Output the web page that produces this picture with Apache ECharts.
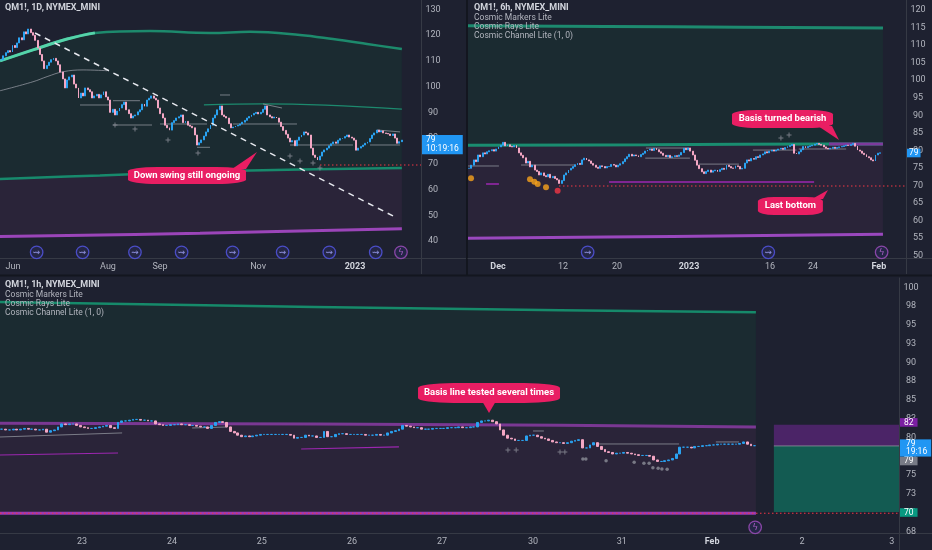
<!DOCTYPE html>
<html>
<head>
<meta charset="UTF-8">
<title>QM1! - Cosmic Channel Lite</title>
<script src="https://cdn.jsdelivr.net/npm/echarts@6/dist/echarts.min.js"></script>
<style>
    html, body { margin: 0; padding: 0; background: #1e2130; }
    #chart { width: 932px; height: 550px; }
</style>
</head>
<body>
<div id="chart"></div>
<script type="text/javascript">
    // ---- closes (open = previous close) ----
    var dailyClose = [
        110.4,112.0,113.2,114.0,113.5,116.0,115.2,117.0,119.0,118.2,
        121.3,120.5,122.4,121.0,120.0,118.0,115.0,112.5,110.0,107.0,
        108.2,109.5,110.5,111.0,110.0,108.5,105.7,103.0,99.5,102.6,
        103.8,104.5,101.0,99.5,95.6,97.5,96.4,99.5,98.8,98.0,
        95.6,96.4,97.0,95.6,96.8,98.0,96.0,94.8,90.0,91.2,
        89.0,90.5,91.7,93.0,94.0,91.0,89.5,87.8,88.6,89.0,
        90.2,91.0,93.2,92.4,94.8,95.5,96.4,95.5,94.8,91.7,
        89.5,87.8,85.0,84.0,83.1,86.0,86.8,87.8,88.3,89.0,
        86.0,86.5,85.0,84.6,84.0,81.2,77.3,78.2,79.3,80.8,
        82.4,83.6,85.0,87.8,89.0,91.0,92.5,89.0,88.4,87.8,
        85.6,84.0,84.3,84.7,85.0,85.5,86.2,86.9,87.8,88.4,
        89.0,89.6,90.0,89.4,90.0,91.2,92.5,89.0,88.3,87.8,
        88.2,87.8,86.2,84.5,83.0,81.5,80.0,78.5,79.0,77.0,
        79.2,80.4,81.2,82.4,82.0,81.2,76.1,73.4,72.5,71.5,
        73.0,74.6,75.4,76.1,77.0,77.8,78.5,78.0,79.2,79.8,
        80.0,80.6,81.2,80.4,80.0,79.2,75.3,76.1,76.7,77.3,
        78.0,78.5,79.8,81.2,82.0,83.1,82.4,82.8,82.0,81.8,
        81.6,81.0,81.6,80.0,78.0,78.6,79.2
    ];
    var sixHourClose = [
        74.9,75.8,77.3,76.8,78.7,78.2,79.3,79.0,79.6,79.9,
        80.2,79.8,80.4,81.0,81.5,82.3,81.3,81.6,81.1,81.0,
        81.4,80.7,79.3,78.6,77.9,76.4,76.9,75.3,75.8,74.4,
        74.0,73.0,73.6,72.8,72.5,73.2,72.2,72.6,72.0,71.6,
        70.6,71.4,73.0,73.6,74.4,74.9,75.4,75.9,76.3,76.0,
        77.3,77.8,77.3,77.0,76.3,75.8,75.2,74.9,75.6,75.4,
        75.0,75.4,75.4,76.0,75.8,75.3,75.8,76.2,76.8,77.6,
        78.2,78.9,78.4,78.7,78.5,78.2,78.8,79.2,79.8,80.1,
        80.4,80.0,80.6,80.2,79.6,79.2,78.6,78.2,78.6,78.0,
        78.2,78.5,78.3,78.7,79.4,80.6,80.2,80.7,79.8,78.7,
        77.2,75.8,74.8,73.9,73.4,74.0,74.4,73.8,74.2,74.4,
        74.0,74.5,74.9,74.6,75.8,75.4,75.0,74.9,75.6,75.4,
        74.7,74.9,76.4,77.3,77.0,77.7,77.5,78.2,78.0,78.7,
        79.0,79.6,79.3,79.8,80.1,79.8,80.1,80.4,80.6,80.3,
        80.8,81.1,81.4,81.7,79.2,79.0,79.6,80.2,81.1,80.8,
        81.1,81.3,81.5,81.8,82.0,81.7,81.5,81.0,80.6,80.4,
        80.6,80.9,80.6,80.8,81.0,81.1,81.3,81.5,81.4,81.7,
        82.0,81.2,80.1,79.8,79.2,78.8,78.2,77.9,77.3,77.0,
        78.7,79.2,79.3
    ];
    var hourClose = [
        81.1,81.0,81.0,81.1,81.0,81.1,81.2,81.1,81.1,81.0,
        81.0,81.1,80.7,80.9,81.0,81.4,81.8,81.7,81.8,81.8,
        81.6,81.4,81.3,81.2,81.2,81.3,81.4,81.5,81.6,81.3,
        81.2,82.0,82.2,82.2,82.3,82.4,82.4,82.3,82.3,82.2,
        82.2,81.8,81.7,81.6,81.6,81.7,81.7,81.8,81.7,81.7,
        81.6,81.6,81.5,81.4,81.4,81.2,81.6,82.0,82.1,82.0,
        81.4,80.8,80.6,80.3,80.1,80.2,80.1,80.2,80.3,80.4,
        80.4,80.4,80.4,80.4,80.4,80.4,80.4,80.3,79.9,80.0,
        80.0,80.3,80.2,80.2,80.0,80.0,80.8,80.1,80.1,80.4,
        80.5,80.5,80.4,80.4,80.4,80.4,80.4,80.3,80.3,80.3,
        80.4,80.3,80.3,80.6,80.8,80.9,81.1,81.6,81.5,81.4,
        81.3,81.3,81.1,81.1,81.1,81.2,81.2,81.2,81.2,81.3,
        81.3,81.3,81.4,81.3,81.3,81.4,81.4,82.0,82.2,82.2,
        82.3,82.1,81.8,81.0,80.3,79.9,79.8,79.6,79.6,79.6,
        80.2,80.3,80.3,80.1,79.9,79.8,79.6,79.4,79.3,79.3,
        79.2,79.3,79.5,79.6,79.7,78.6,78.6,79.0,79.3,78.8,
        78.4,78.1,78.0,77.8,77.9,77.9,78.0,77.9,77.8,77.7,
        77.6,77.6,77.6,77.5,77.0,76.8,76.8,76.9,77.0,77.2,
        77.8,78.7,78.7,78.7,78.6,78.8,78.8,78.9,78.9,79.0,
        79.0,79.1,79.1,79.1,79.1,79.1,79.1,79.2,79.4,79.1,
        78.9,78.9
    ];

    // bar slots on each time scale (data + empty space to the right)
    var dailySlots = 185, sixHourSlots = 194, hourSlots = 240;

    // time labels: [slot, text, bold]
    var dailyTicks = [[5.2,'Jun'],[46.96,'Aug'],[69.8,'Sep'],[112.9,'Nov'],[155.5,'2023',1]];
    var sixHourTicks = [[12.8,'Dec',1],[41.6,'12'],[65.5,'20'],[97.4,'2023',1],[133.3,'16'],[152.3,'24'],[181.5,'Feb',1]];
    var hourTicks = [[21.4,'23'],[45.4,'24'],[69.4,'25'],[93.5,'26'],[117.5,'27'],[141.8,'30'],[165.5,'31'],[189.6,'Feb',1],[213.6,'2'],[237.6,'3']];

    // price labels
    var dailyPriceTicks = [40,50,60,70,80,90,100,110,120,130];
    var sixHourPriceTicks = [50,55,60,65,70,75,80,85,90,95,100,105,110,115,120];
    var hourPriceTicks = [67.5,70,72.5,75,77.5,80,82.5,85,87.5,90,92.5,95,97.5,100];

    // last price / level tags on the price scales
    var dailyLast = 79, sixHourLast = 79.26;
    var hourLevels = {upper: 82, last: 79.13, close: 76.86, bottom: 70};

    // ---- Cosmic Channel bands [slot, price] ----
    var dUpper = [[-0.5,110.0],[14,114.3],[29,118.5],[41.2,120.9],[65.4,121.6],[91.8,120.9],[109.4,121.3],[131.3,120.1],[145.8,118.5],[160.8,116.6],[176.1,114.6]];
    var dUpperLit = [[-0.5,110.0],[14,114.3],[29,118.5],[41.2,120.9]];
    var dBasis = [[-0.5,64.1],[43.4,65.5],[87.4,66.9],[131.3,67.8],[176.1,68.4]];
    var dLower = [[-0.5,41.7],[87.4,43.0],[176.1,44.8]];
    var dInner = [[89.1,92.9],[115,93.3],[176.1,91.3]];
    var dRay = [[-0.5,98.4],[14,101.9],[20.2,103.9],[27.2,105.8],[36,106.5],[46.5,106.2]];
    var dTrend = [[14.9,120.86],[173.1,49.32]];
    var dLastBottom = [[140.1,69.54],[184.5,69.54]];

    var sUpper = [[-0.5,115.5],[90,115.2],[183.3,114.9]];
    var sBasis = [[-0.5,81.5],[80,81.6],[159.4,81.8],[183.3,81.8]];
    var sBasisBear = [[159.4,81.8],[183.3,81.8]];
    var sLower = [[-0.5,55.0],[90,55.5],[183.3,56.1]];
    var sLastBottom = [[39.8,69.86],[193.5,69.86]];

    var hUpper = [[-0.5,98.04],[124,97.1],[201.3,96.67]];
    var hBasis = [[-0.5,81.9],[124,81.7],[201.3,81.4]];
    var hLower = [[-0.5,69.9],[201.3,69.9]];
    var hLastBottom = [[-0.5,69.9],[239.5,69.9]];

    // ---- Cosmic Rays levels ----
    var dGreyLevels = [
        [[34.65,92.87],[47.84,92.87]], [[49.15,85.09],[66.29,85.09]], [[49.15,94.54],[61.0,94.54]],
        [[69.81,85.48],[90.46,85.48]], [[86.07,76.42],[91.78,76.42]], [[101.9,85.48],[130,85.48]],
        [[96.17,96.76],[100.57,96.76]], [[115.07,93.27],[123.4,91.7]], [[126.93,77.32],[154.6,77.32]],
        [[162.1,77.32],[175.3,77.32]], [[165.2,83.15],[175.3,82.4]]
    ];
    var sGreyLevels = [
        [[-0.5,75.56],[13.2,75.56]], [[23,75.84],[47.3,75.84]], [[78.3,80.68],[97.4,80.68]],
        [[78,77.8],[97.8,77.8]], [[101.8,76.1],[119.5,76.1]], [[125.7,80.1],[145,80.1]], [[146,80.4],[167,80.4]]
    ];
    var sMagentaLevels = [[[62,71.0],[152.8,71.0]], [[7.5,70.4],[13.2,70.4]]];
    var hGreyLevels = [
        [[-0.5,80.06],[32.1,80.6]], [[50.8,81.26],[60.1,81.39]], [[141.8,80.86],[144.7,80.86]],
        [[159.1,79.13],[180.8,79.13]], [[190.6,79.4],[196.8,79.4]], [[206.1,78.87],[239.5,78.87]]
    ];
    var hMagentaLevels = [[[-0.5,77.66],[31,77.93]], [[79.9,78.46],[106,78.73]]];

    // ---- Cosmic Markers ----
    var dPlus = [[50.03,85.09],[58.82,83.53],[73.32,79.25],[86.5,74.2],[126.93,73.0],[131.33,71.1],[137.04,70.3],[140.1,68.4]];
    var sPlus = [[138.1,83.53],[141.7,84.4]];
    var sOrange = [[0.83,72.05],[26.96,71.8],[28.87,71.1],[30.37,70.4],[34.05,69.5]];
    var sRed = [[39.2,68.5]];
    var hPlus = [[135.1,78.33],[137.3,78.33],[149.0,78.06],[150.3,78.06]];
    var hDots = [[155.1,77.13],[155.9,77.13],[161.3,76.9],[168.8,76.69],[171.4,76.56],[172.8,76.56],[173.8,75.97],[175.2,75.9],[176.2,75.8],[177.6,75.76]];

    // event icons
    var dEvents = [[15.6,35.6],[35.8,35.6],[58.8,35.6],[79.3,35.6],[101.7,35.6],[123.7,35.6],[144.2,35.6],[164.6,35.6]];
    var dFlash = [[175.7,35.6]];
    var sEvents = [[52.5,50.97],[132.5,50.97]];
    var sFlash = [[182.7,50.97]];
    var hFlash = [[201.1,68.03]];

    // ---- styles ----
    var BG = '#1e2130', TEAL_FILL = '#1b2b31', PURPLE_FILL = '#2a2439';
    var AXIS_LINE = '#363a45', LABEL = '#b2b5be', PINK = '#e91e63';
    var UP = '#2aa3f2', DOWN = '#f4a7c4';
    var FONT = 'Roboto, "Noto Sans", sans-serif';

    function toOhlc(closes) {
        return closes.map(function (c, i) {
            var o = i ? closes[i - 1] : c;
            return [o, c, Math.min(o, c), Math.max(o, c)];
        });
    }
    function slotNames(n) {
        var a = [];
        for (var i = 0; i < n; i++) a.push(String(i));
        return a;
    }
    function timeAxis(grid, slots, ticks) {
        return {
            type: 'value', gridIndex: grid, position: 'bottom', min: -0.5, max: slots - 0.5,
            splitLine: {show: false}, axisTick: {show: false},
            axisLine: {show: true, onZero: false, lineStyle: {color: AXIS_LINE}},
            axisLabel: {
                customValues: ticks.map(function (t) { return t[0]; }),
                color: LABEL, fontSize: 9, margin: 4, fontFamily: FONT,
                formatter: function (v) {
                    for (var i = 0; i < ticks.length; i++) {
                        if (Math.abs(ticks[i][0] - v) < 1e-6) {
                            return ticks[i][2] ? '{b|' + ticks[i][1] + '}' : ticks[i][1];
                        }
                    }
                    return '';
                },
                rich: {b: {fontWeight: 'bold', color: '#d1d4dc', fontSize: 9, fontFamily: FONT}}
            }
        };
    }
    function slotAxis(grid, slots) {
        return {type: 'category', gridIndex: grid, position: 'top', show: false, boundaryGap: true, data: slotNames(slots)};
    }
    function priceAxis(grid, min, max, ticks) {
        return {
            type: 'value', gridIndex: grid, position: 'right', min: min, max: max,
            splitLine: {show: false}, axisTick: {show: false},
            axisLine: {show: true, onZero: false, lineStyle: {color: AXIS_LINE}},
            axisLabel: {
                customValues: ticks, color: LABEL, fontSize: 9, margin: 12, align: 'center', fontFamily: FONT,
                formatter: function (v) { return String(Math.round(v)); }
            }
        };
    }
    function path(xi, yi, pts, color, width, dash, z) {
        return {
            type: 'line', xAxisIndex: xi, yAxisIndex: yi, data: pts, symbol: 'none', silent: true,
            lineStyle: {color: color, width: width, type: dash || 'solid'}, z: z || 3
        };
    }
    function band(xi, yi, pts, color, width, fill) {
        var s = path(xi, yi, pts, color, width, null, 2);
        s.smooth = 0.4;
        s.areaStyle = {color: fill, opacity: 1, origin: 'start'};
        return s;
    }
    function curve(xi, yi, pts, color, width) {
        var s = path(xi, yi, pts, color, width, null, 3);
        s.smooth = 0.4;
        return s;
    }
    function segs(xi, yi, list, color, width) {
        return list.map(function (p) { return path(xi, yi, p, color, width, null, 3); });
    }
    function dots(xi, yi, pts, symbol, size, color) {
        return {
            type: 'scatter', xAxisIndex: xi, yAxisIndex: yi, data: pts, symbol: symbol, symbolSize: size,
            itemStyle: {color: color}, silent: true, z: 5
        };
    }
    function candles(xi, yi, closes) {
        return {
            type: 'candlestick', xAxisIndex: xi, yAxisIndex: yi, data: toOhlc(closes), barWidth: '62%', silent: true,
            itemStyle: {color: UP, color0: DOWN, borderColor: UP, borderColor0: DOWN, borderWidth: 1}, z: 4
        };
    }
    function icons(xi, yi, pts, ring, glyph, glyphColor, extra) {
        var s = {
            type: 'scatter', xAxisIndex: xi, yAxisIndex: yi, data: pts, symbol: 'circle', symbolSize: 12.5, silent: true,
            clip: false,
            itemStyle: {color: '#25284c', borderColor: ring, borderWidth: 1.3},
            label: {show: true, position: 'inside', formatter: glyph, color: glyphColor, fontSize: 9, fontFamily: 'DejaVu Sans'},
            z: 6
        };
        extra = extra || {};
        if (extra.notes) s.markPoint = {silent: true, symbolKeepAspect: false, data: extra.notes, z: 7};
        if (extra.tags) s.markLine = {silent: true, symbol: ['none', 'none'], data: extra.tags, z: 8,
            lineStyle: {color: 'rgba(0,0,0,0)', width: 0.01, opacity: 1}};
        if (extra.areas) s.markArea = {silent: true, data: extra.areas};
        return s;
    }
    function note(x, y, w, h, text, size) {
        return {
            coord: [x, y], symbol: 'roundRect', symbolSize: [w, h], itemStyle: {color: PINK},
            label: {show: true, position: 'inside', formatter: text, color: '#ffffff', fontSize: size || 9.5, fontWeight: 'bold', fontFamily: FONT}
        };
    }
    function pointer(x, y, w, h, shape) {
        return {coord: [x, y], symbol: 'path://' + shape, symbolSize: [w, h], itemStyle: {color: PINK}, label: {show: false}};
    }
    // price-scale tag drawn as the end label of an invisible horizontal mark line
    function tag(value, color, text, pad, shift) {
        return {
            yAxis: value,
            label: {
                show: true, position: 'end', distance: 1, formatter: text, color: '#ffffff', opacity: 1,
                fontSize: 8.5, lineHeight: 8.6, fontFamily: FONT, align: 'left',
                backgroundColor: color, padding: pad, offset: [0, shift || 0]
            }
        };
    }

    var PLUS = 'path://M2,0H3V2H5V3H3V5H2V3H0V2H2Z';
    var titleStyle = {color: '#d1d4dc', fontSize: 9, fontWeight: 'bold', lineHeight: 10, fontFamily: FONT};
    var legendStyle = {color: '#b2b5be', fontSize: 8.5, lineHeight: 9.3, fontFamily: FONT};
    var legends = 'Cosmic Markers Lite\nCosmic Rays Lite\nCosmic Channel Lite (1, 0)';

    var chart = echarts.init(document.getElementById('chart'));

    var series = [].concat(
        // ----- 1D panel -----
        band(1, 0, dUpper, '#1d8a6c', 2.5, TEAL_FILL),
        band(1, 0, dBasis, '#178a6c', 2.5, PURPLE_FILL),
        band(1, 0, dLower, '#9b45b9', 3, BG),
        curve(1, 0, dUpperLit, '#55d3a9', 3),
        curve(1, 0, dInner, '#1d8a6e', 1.2),
        curve(1, 0, dRay, 'rgba(160,163,172,0.7)', 1),
        segs(1, 0, dGreyLevels, 'rgba(150,153,162,0.75)', 1),
        path(1, 0, dLastBottom, '#f23645', 1.2, [1.5, 2.5], 3),
        candles(0, 0, dailyClose),
        path(1, 0, dTrend, '#e6e8ee', 1.5, [6, 5], 5),
        dots(1, 0, dPlus, PLUS, 5, '#8c8f99'),
        icons(1, 0, dEvents, '#5558e8', '⇝', '#a5a7ff'),
        icons(1, 0, dFlash, '#a34fc2', 'ϟ', '#c66ae0', {
            notes: [
                note(81.67, 65.46, 118, 17, 'Down swing still ongoing'),
                pointer(106.94, 71.29, 25, 17, 'M0,17L14,17L25,0Z')
            ],
            tags: [tag(dailyLast, '#2196f3', '79\n10:19:16', [1, 4, 1, 4], 4)]
        }),

        // ----- 6h panel -----
        band(3, 1, sUpper, '#1d8a6f', 3, TEAL_FILL),
        band(3, 1, sBasis, '#1a8d70', 3, PURPLE_FILL),
        band(3, 1, sLower, '#9a48be', 3, BG),
        path(3, 1, sBasisBear, '#7e3a9c', 3, null, 3),
        segs(3, 1, sGreyLevels, 'rgba(150,153,162,0.75)', 1),
        segs(3, 1, sMagentaLevels, '#9c27b0', 1.5),
        path(3, 1, sLastBottom, '#f23645', 1.2, [1.5, 2.5], 3),
        candles(2, 1, sixHourClose),
        dots(3, 1, sPlus, PLUS, 5, '#8c8f99'),
        dots(3, 1, sOrange, 'circle', 6, '#f7a21b'),
        dots(3, 1, sRed, 'circle', 6, '#f23645'),
        icons(3, 1, sEvents, '#5558e8', '⇝', '#a5a7ff'),
        icons(3, 1, sFlash, '#a34fc2', 'ϟ', '#c66ae0', {
            notes: [
                note(138.8, 88.95, 101, 18, 'Basis turned bearish'),
                pointer(159.18, 84.96, 21, 14, 'M0,0L14,0L21,14Z'),
                note(142.3, 64.16, 65, 18, 'Last bottom'),
                pointer(155.41, 67.44, 16, 9, 'M0,9L11,9L16,0Z')
            ],
            tags: [tag(sixHourLast, '#2196f3', '79', [0, 2, 0, 2])]
        }),

        // ----- 1h panel -----
        band(5, 2, hUpper, '#168a6a', 2.5, TEAL_FILL),
        band(5, 2, hBasis, '#7a3893', 3, PURPLE_FILL),
        band(5, 2, hLower, '#9c3bb5', 3, BG),
        segs(5, 2, hGreyLevels, 'rgba(150,153,162,0.75)', 1),
        segs(5, 2, hMagentaLevels, '#9c27b0', 1.2),
        path(5, 2, hLastBottom, '#f23645', 1.2, [1.5, 2.5], 3),
        candles(4, 2, hourClose),
        dots(5, 2, hPlus, PLUS, 5, '#8c8f99'),
        dots(5, 2, hDots, 'circle', 3.5, '#8c8f99'),
        icons(5, 2, hFlash, '#a34fc2', 'ϟ', '#c66ae0', {
            notes: [
                note(130.05, 85.92, 142, 20, 'Basis line tested several times'),
                pointer(130.05, 84.06, 14, 12, 'M0,0L14,0L7,12Z')
            ],
            tags: [
                tag(hourLevels.upper, '#7b1fa2', '82', [0, 4, 0, 4]),
                tag(hourLevels.close, '#787b86', '79', [0, 4, 0, 4]),
                tag(hourLevels.bottom, '#089981', '70', [0, 4, 0, 4]),
                tag(hourLevels.last, '#2196f3', '79\n19:16', [0, 4, 0, 6], 4)
            ],
            areas: [
                [{coord: [206.1, 81.7], itemStyle: {color: '#4b2467'}}, {coord: [239.5, 78.87]}],
                [{coord: [206.1, 78.87], itemStyle: {color: '#135b52'}}, {coord: [239.5, 70.07]}]
            ]
        })
    );

    var option = {
        backgroundColor: BG,
        animation: false,
        textStyle: {fontFamily: FONT},
        title: [
            {text: 'QM1!, 1D, NYMEX_MINI', left: 5, top: 3, padding: 0, textStyle: titleStyle},
            {text: 'QM1!, 6h, NYMEX_MINI', subtext: legends, left: 474, top: 3, padding: 0, itemGap: 0,
                textStyle: titleStyle, subtextStyle: legendStyle},
            {text: 'QM1!, 1h, NYMEX_MINI', subtext: legends, left: 5, top: 280, padding: 0, itemGap: 0,
                textStyle: titleStyle, subtextStyle: legendStyle}
        ],
        grid: [
            {left: 0, top: 0, width: 421, height: 258},
            {left: 468, top: 0, width: 438, height: 258},
            {left: 0, top: 278, width: 899, height: 255}
        ],
        xAxis: [
            slotAxis(0, dailySlots), timeAxis(0, dailySlots, dailyTicks),
            slotAxis(1, sixHourSlots), timeAxis(1, sixHourSlots, sixHourTicks),
            slotAxis(2, hourSlots), timeAxis(2, hourSlots, hourTicks)
        ],
        yAxis: [
            priceAxis(0, 33.38, 133.69, dailyPriceTicks),
            priceAxis(1, 49.35, 122.85, sixHourPriceTicks),
            priceAxis(2, 67.27, 101.24, hourPriceTicks)
        ],
        graphic: [
            {type: 'rect', silent: true, shape: {x: 466, y: 0, width: 2, height: 276}, style: {fill: '#13161f'}},
            {type: 'rect', silent: true, shape: {x: 0, y: 274.5, width: 932, height: 2}, style: {fill: '#13161f'}},
            {type: 'line', silent: true, shape: {x1: 421, y1: 258.5, x2: 466, y2: 258.5}, style: {stroke: AXIS_LINE}},
            {type: 'line', silent: true, shape: {x1: 421.5, y1: 258, x2: 421.5, y2: 274}, style: {stroke: AXIS_LINE}},
            {type: 'line', silent: true, shape: {x1: 906, y1: 258.5, x2: 932, y2: 258.5}, style: {stroke: AXIS_LINE}},
            {type: 'line', silent: true, shape: {x1: 906.5, y1: 258, x2: 906.5, y2: 274}, style: {stroke: AXIS_LINE}},
            {type: 'line', silent: true, shape: {x1: 899, y1: 533.5, x2: 932, y2: 533.5}, style: {stroke: AXIS_LINE}},
            {type: 'line', silent: true, shape: {x1: 899.5, y1: 533, x2: 899.5, y2: 550}, style: {stroke: AXIS_LINE}}
        ],
        series: series
    };

    chart.setOption(option);
</script>
</body>
</html>
